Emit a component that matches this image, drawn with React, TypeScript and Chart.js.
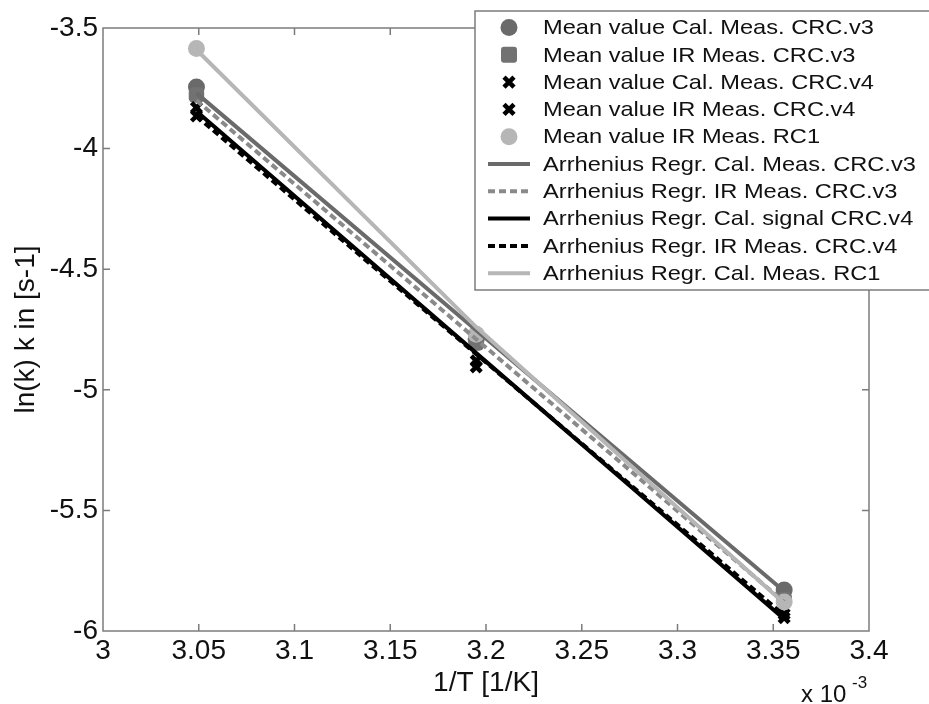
import React, { useEffect, useRef } from "react";
import { Chart, registerables } from "chart.js";

Chart.register(...registerables);

// ---- data ----
const invT = [3.0488, 3.1949, 3.3557]; // 1/T in 1e-3 1/K
const meanCalV3 = [-3.745, -4.79, -5.83];
const meanIrV3 = [-3.778, -4.806, -5.87];
const meanCalV4 = [-3.83, -4.88, -5.93];
const meanIrV4 = [-3.865, -4.905, -5.945];
const meanIrRC1 = [-3.585, -4.77, -5.88];

const regCalV3 = [-3.77, -4.753, -5.835];
const regIrV3 = [-3.8, -4.79, -5.88];
const regCalV4 = [-3.845, -4.848, -5.95];
const regIrV4 = [-3.865, -4.852, -5.935];
const regRC1 = [-3.59, -4.74, -5.885];

const xTicks = [3, 3.05, 3.1, 3.15, 3.2, 3.25, 3.3, 3.35, 3.4];
const yTicks = [-6, -5.5, -5, -4.5, -4, -3.5];

const legendLabels = [
  "Mean value Cal. Meas. CRC.v3",
  "Mean value IR Meas. CRC.v3",
  "Mean value Cal. Meas. CRC.v4",
  "Mean value IR Meas. CRC.v4",
  "Mean value IR Meas. RC1",
  "Arrhenius Regr. Cal. Meas. CRC.v3",
  "Arrhenius Regr. IR Meas. CRC.v3",
  "Arrhenius Regr. Cal. signal CRC.v4",
  "Arrhenius Regr. IR Meas. CRC.v4",
  "Arrhenius Regr. Cal. Meas. RC1",
];

const C_DARK = "#6a6a6a";
const C_SQ = "#727272";
const C_LIGHT = "#b6b6b6";
const C_DASH = "#8a8a8a";
const C_BLACK = "#000000";
const FONT = "'Liberation Sans', Arial, Helvetica, sans-serif";

const pts = (xs: number[], ys: number[]) => xs.map((x, i) => ({ x, y: ys[i] }));

type Item = { kind: string; color: string; dash?: number[] };
const legendItems: Item[] = [
  { kind: "circle", color: C_DARK },
  { kind: "square", color: C_SQ },
  { kind: "cross", color: C_BLACK },
  { kind: "cross", color: C_BLACK },
  { kind: "circle", color: C_LIGHT },
  { kind: "line", color: C_DARK },
  { kind: "line", color: C_DASH, dash: [7, 4] },
  { kind: "line", color: C_BLACK },
  { kind: "line", color: C_BLACK, dash: [7, 4] },
  { kind: "line", color: C_LIGHT },
];

function drawMarker(ctx: CanvasRenderingContext2D, it: Item, cx: number, cy: number) {
  ctx.save();
  if (it.kind === "circle") {
    ctx.fillStyle = it.color;
    ctx.beginPath();
    ctx.arc(cx, cy, 8.5, 0, Math.PI * 2);
    ctx.fill();
  } else if (it.kind === "square") {
    ctx.fillStyle = it.color;
    ctx.beginPath();
    const r = 3, s = 8;
    ctx.moveTo(cx - s + r, cy - s);
    ctx.arcTo(cx + s, cy - s, cx + s, cy + s, r);
    ctx.arcTo(cx + s, cy + s, cx - s, cy + s, r);
    ctx.arcTo(cx - s, cy + s, cx - s, cy - s, r);
    ctx.arcTo(cx - s, cy - s, cx + s, cy - s, r);
    ctx.fill();
  } else if (it.kind === "cross") {
    ctx.strokeStyle = it.color;
    ctx.lineWidth = 4.5;
    const d = 5;
    ctx.beginPath();
    ctx.moveTo(cx - d, cy - d);
    ctx.lineTo(cx + d, cy + d);
    ctx.moveTo(cx + d, cy - d);
    ctx.lineTo(cx - d, cy + d);
    ctx.stroke();
  } else {
    ctx.strokeStyle = it.color;
    ctx.lineWidth = 4;
    ctx.setLineDash(it.dash || []);
    ctx.beginPath();
    ctx.moveTo(488, cy);
    ctx.lineTo(530, cy);
    ctx.stroke();
  }
  ctx.restore();
}

const decorPlugin = {
  id: "decor",
  afterDraw(chart: any) {
    const ctx: CanvasRenderingContext2D = chart.ctx;
    const { left, right, top, bottom } = chart.chartArea;
    const xs = chart.scales.x;
    const ys = chart.scales.y;
    ctx.save();
    // box
    ctx.strokeStyle = "#7c7c7c";
    ctx.lineWidth = 1.5;
    ctx.strokeRect(left, top, right - left, bottom - top);
    // inward ticks
    const tl = 7;
    ctx.beginPath();
    xTicks.forEach((v) => {
      const px = xs.getPixelForValue(v);
      if (px <= left + 1 || px >= right - 1) return;
      ctx.moveTo(px, bottom);
      ctx.lineTo(px, bottom - tl);
      ctx.moveTo(px, top);
      ctx.lineTo(px, top + tl);
    });
    yTicks.forEach((v) => {
      const py = ys.getPixelForValue(v);
      if (py <= top + 1 || py >= bottom - 1) return;
      ctx.moveTo(left, py);
      ctx.lineTo(left + tl, py);
      ctx.moveTo(right, py);
      ctx.lineTo(right - tl, py);
    });
    ctx.stroke();

    // x 10^-3
    ctx.fillStyle = "#111";
    ctx.textBaseline = "alphabetic";
    ctx.textAlign = "left";
    ctx.font = `24px ${FONT}`;
    ctx.fillText("x 10", 801, 702);
    ctx.font = `17px ${FONT}`;
    ctx.fillText("-3", 852, 688);

    // legend
    const lx = 475, ly = 11, lw = 460, lh = 279;
    ctx.fillStyle = "#ffffff";
    ctx.fillRect(lx, ly, lw, lh);
    ctx.strokeStyle = "#7c7c7c";
    ctx.lineWidth = 1.5;
    ctx.strokeRect(lx, ly, lw, lh);
    legendItems.forEach((it, i) => {
      const cy = 27.5 + i * 27.3;
      drawMarker(ctx, it, 509, cy);
      ctx.save();
      ctx.fillStyle = "#111";
      ctx.font = `21px ${FONT}`;
      ctx.textBaseline = "middle";
      ctx.translate(543, cy + 1);
      ctx.scale(1.125, 1);
      ctx.fillText(legendLabels[i], 0, 0);
      ctx.restore();
    });
    ctx.restore();
  },
};

export default function App() {
  const ref = useRef<HTMLCanvasElement | null>(null);
  useEffect(() => {
    if (!ref.current) return;
    const markerDs = (data: any, style: string, color: string, order: number, radius: number, bw = 0) => ({
      data,
      showLine: false,
      pointStyle: style,
      pointRadius: radius,
      pointHoverRadius: radius,
      pointBackgroundColor: color,
      pointBorderColor: color,
      pointBorderWidth: bw,
      order,
    });
    const lineDs = (data: any, color: string, order: number, dash: number[] = []) => ({
      data,
      showLine: true,
      borderColor: color,
      borderWidth: 4,
      borderDash: dash,
      pointRadius: 0,
      fill: false,
      order,
    });
    const chart = new Chart(ref.current, {
      type: "scatter",
      data: {
        datasets: [
          markerDs(pts(invT, meanCalV3), "circle", C_DARK, 10, 8.5),
          markerDs(pts(invT, meanIrV3), "rectRounded", C_SQ, 9, 9),
          markerDs(pts(invT, meanCalV4), "crossRot", C_BLACK, 8, 7, 4.5),
          markerDs(pts(invT, meanIrV4), "crossRot", C_BLACK, 7, 7, 4.5),
          markerDs(pts(invT, meanIrRC1), "circle", C_LIGHT, 6, 8.5),
          lineDs(pts(invT, regCalV3), C_DARK, 5),
          lineDs(pts(invT, regIrV3), C_DASH, 4, [7, 4]),
          lineDs(pts(invT, regCalV4), C_BLACK, 3),
          lineDs(pts(invT, regIrV4), C_BLACK, 2, [7, 4]),
          lineDs(pts(invT, regRC1), C_LIGHT, 1),
        ] as any,
      },
      options: {
        animation: false,
        responsive: false,
        maintainAspectRatio: false,
        layout: { padding: { left: 0, top: 28, right: 60, bottom: 0 } },
        plugins: { legend: { display: false }, tooltip: { enabled: false } },
        scales: {
          x: {
            type: "linear",
            min: 3,
            max: 3.4,
            afterBuildTicks: (s: any) => {
              s.ticks = xTicks.map((v) => ({ value: v }));
            },
            afterFit: (s: any) => {
              s.height = 73;
            },
            grid: { display: false, drawTicks: false },
            border: { display: false },
            ticks: {
              padding: 3,
              color: "#111",
              font: { family: FONT, size: 28 },
              maxRotation: 0,
              autoSkip: false,
              callback: (v: any) => String(Number(Number(v).toFixed(2))),
            },
            title: {
              display: true,
              text: "1/T [1/K]",
              color: "#111",
              font: { family: FONT, size: 28 },
              padding: { top: 0, bottom: 4 },
            },
          },
          y: {
            type: "linear",
            min: -6,
            max: -3.5,
            afterBuildTicks: (s: any) => {
              s.ticks = yTicks.map((v) => ({ value: v }));
            },
            afterFit: (s: any) => {
              s.width = 103;
            },
            grid: { display: false, drawTicks: false },
            border: { display: false },
            ticks: {
              padding: 5,
              color: "#111",
              font: { family: FONT, size: 28 },
              autoSkip: false,
              callback: (v: any) => String(Number(Number(v).toFixed(2))),
            },
            title: {
              display: true,
              text: "ln(k) k in [s-1]",
              color: "#111",
              font: { family: FONT, size: 28 },
              padding: { top: 9, bottom: 0 },
            },
          },
        },
      },
      plugins: [decorPlugin],
    });
    return () => chart.destroy();
  }, []);
  return (
    <div style={{ position: "fixed", left: 0, top: 0, width: 929, height: 704, background: "#fff" }}>
      <canvas ref={ref} width={929} height={704} style={{ display: "block" }} />
    </div>
  );
}
